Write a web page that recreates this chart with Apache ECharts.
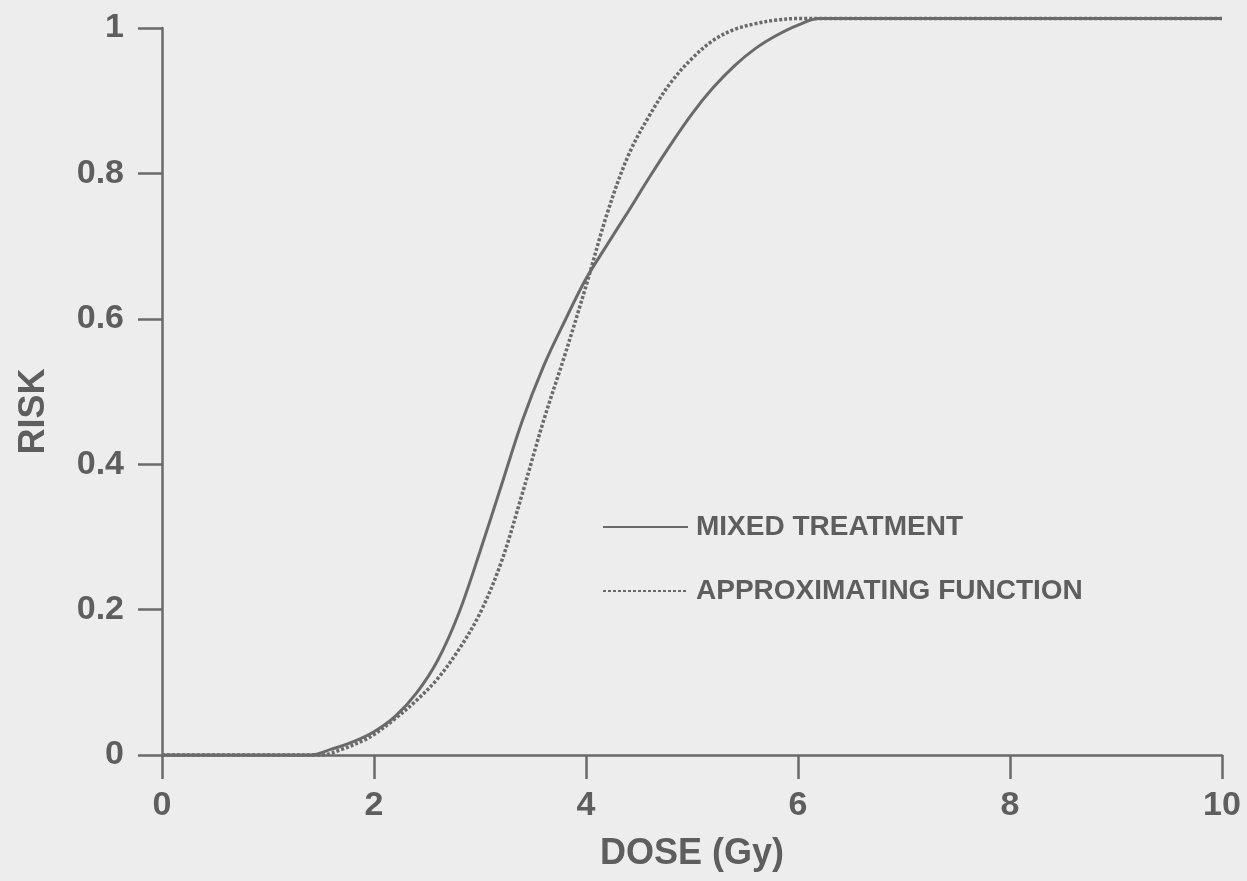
<!DOCTYPE html>
<html>
<head>
<meta charset="utf-8">
<script src="https://cdn.jsdelivr.net/npm/echarts@6/dist/echarts.min.js"></script>
<style>
html,body{margin:0;padding:0;background:#ededed;}
#main{width:1247px;height:881px;}
</style>
</head>
<body>
<div id="main"></div>
<script>
// Dose (Gy) values for the mixed treatment curve
var mixedDose = [0, 1.0, 1.4, 1.6, 1.8, 2.0, 2.2, 2.4, 2.6, 2.8, 3.0, 3.2, 3.4, 3.6, 3.8, 4.0, 4.2, 4.4, 4.6, 4.8, 5.0, 5.2, 5.4, 5.6, 5.8, 6.0, 6.2, 8.0, 10];
var mixedRisk = [0, 0, 0, 0.008, 0.018, 0.032, 0.053, 0.085, 0.13, 0.195, 0.28, 0.37, 0.46, 0.535, 0.597, 0.655, 0.702, 0.748, 0.795, 0.84, 0.882, 0.918, 0.948, 0.972, 0.99, 1.004, 1.013, 1.013, 1.013];
// Dose (Gy) values for the approximating function curve
var approxDose = [0, 1.0, 1.5, 1.7, 1.9, 2.0, 2.2, 2.4, 2.6, 2.8, 3.0, 3.2, 3.4, 3.6, 3.8, 4.0, 4.2, 4.4, 4.6, 4.8, 5.0, 5.2, 5.4, 5.6, 5.8, 6.0, 8.0, 10];
var approxRisk = [0, 0, 0, 0.008, 0.02, 0.028, 0.05, 0.075, 0.105, 0.145, 0.195, 0.265, 0.36, 0.46, 0.55, 0.645, 0.745, 0.825, 0.88, 0.925, 0.958, 0.983, 0.998, 1.006, 1.011, 1.013, 1.013, 1.013];
var seriesNames = ['MIXED TREATMENT', 'APPROXIMATING FUNCTION'];
var xTicks = [0, 2, 4, 6, 8, 10];
var yTicks = [0, 0.2, 0.4, 0.6, 0.8, 1];

function pairs(xs, ys) {
  var out = [];
  for (var i = 0; i < xs.length; i++) out.push([xs[i], ys[i]]);
  return out;
}

var ink = '#6a6a6a';
var textInk = '#5e5e5e';
var fontFam = '"Liberation Sans", Arial, Helvetica, sans-serif';

var chart = echarts.init(document.getElementById('main'), null, {renderer: 'canvas'});
chart.setOption({
  backgroundColor: '#ededed',
  animation: false,
  grid: {left: 162, right: 25, top: 28, bottom: 126, containLabel: false, outerBoundsMode: 'none'},
  legend: {
    left: 602,
    top: 512,
    padding: 0,
    orient: 'vertical',
    itemWidth: 85,
    itemHeight: 14,
    itemGap: 34,
    selectedMode: false,
    itemStyle: {opacity: 0},
    textStyle: {color: textInk, fontSize: 28, fontWeight: 'bold', fontFamily: fontFam, lineHeight: 30, padding: [0, 0, 0, 3]},
    data: seriesNames
  },
  xAxis: {
    type: 'value',
    min: xTicks[0],
    max: xTicks[xTicks.length - 1],
    interval: 2,
    name: 'DOSE (Gy)',
    nameLocation: 'middle',
    nameGap: 81,
    nameTextStyle: {color: textInk, fontSize: 36, fontWeight: 'bold', fontFamily: fontFam},
    axisLine: {show: true, lineStyle: {color: ink, width: 2.5}},
    axisTick: {show: true, inside: false, length: 24, lineStyle: {color: ink, width: 2.5}},
    axisLabel: {color: textInk, fontSize: 34, fontWeight: 'bold', fontFamily: fontFam, margin: 34},
    splitLine: {show: false}
  },
  yAxis: {
    type: 'value',
    min: yTicks[0],
    max: yTicks[yTicks.length - 1],
    interval: 0.2,
    name: 'RISK',
    nameLocation: 'middle',
    nameGap: 110,
    nameRotate: 90,
    nameTextStyle: {color: textInk, fontSize: 36, fontWeight: 'bold', fontFamily: fontFam, padding: [0, 40, 0, 0]},
    axisLine: {show: true, lineStyle: {color: ink, width: 2.5}},
    axisTick: {show: true, inside: false, length: 24, lineStyle: {color: ink, width: 2.5}},
    axisLabel: {color: textInk, fontSize: 34, fontWeight: 'bold', fontFamily: fontFam, margin: 38},
    splitLine: {show: false}
  },
  series: [
    {
      name: seriesNames[0],
      type: 'line',
      data: pairs(mixedDose, mixedRisk),
      smooth: 0.35,
      symbol: 'none',
      clip: false,
      lineStyle: {color: ink, width: 3, type: 'solid'},
      itemStyle: {color: ink}
    },
    {
      name: seriesNames[1],
      type: 'line',
      data: pairs(approxDose, approxRisk),
      smooth: 0.35,
      symbol: 'none',
      clip: false,
      lineStyle: {color: ink, width: 3.5, type: [3, 2]},
      itemStyle: {color: ink}
    }
  ]
});
</script>
</body>
</html>
